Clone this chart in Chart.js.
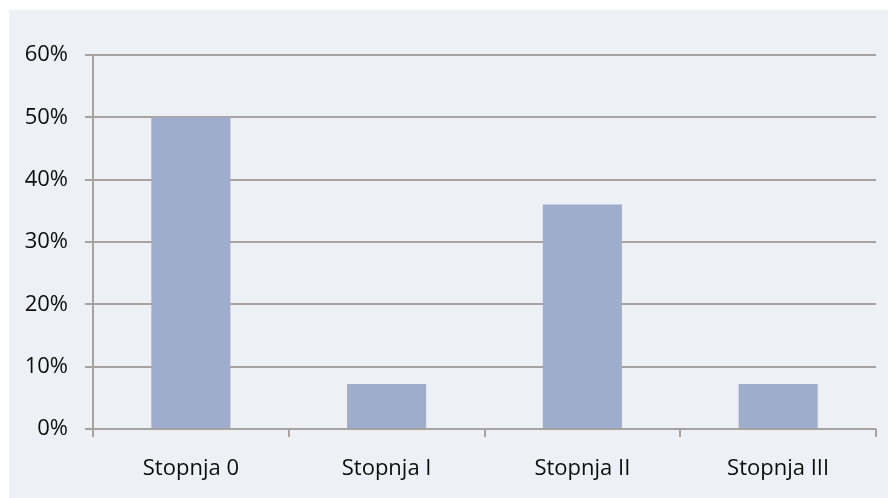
<!DOCTYPE html>
<html>
<head>
<meta charset="utf-8">
<script src="https://cdn.jsdelivr.net/npm/chart.js@4/dist/chart.umd.min.js"></script>
<style>
  html, body { margin: 0; padding: 0; background: #ffffff; }
  #wrap { width: 888px; height: 498px; position: relative; }
</style>
</head>
<body>
<div id="wrap"><canvas id="c" width="888" height="498"></canvas></div>
<script>
// Share of cases per stage (percent)
const categories = ['Stopnja 0', 'Stopnja I', 'Stopnja II', 'Stopnja III'];
const shares = [50, 7.2, 36, 7.2];
const yMin = 0;
const yMax = 60;
const yStep = 10;

const gridColor = '#a9a29e';
const textColor = '#0d0d0d';

// Pale panel behind the chart, leaving a thin white edge on top and left
const panelBackground = {
  id: 'panelBackground',
  beforeDraw(chart) {
    const ctx = chart.ctx;
    ctx.save();
    ctx.fillStyle = '#ffffff';
    ctx.fillRect(0, 0, chart.width, chart.height);
    ctx.fillStyle = '#edf0f5';
    ctx.fillRect(9, 10, chart.width - 9, chart.height - 10);
    ctx.restore();
  }
};

new Chart(document.getElementById('c'), {
  type: 'bar',
  data: {
    labels: categories,
    datasets: [{
      data: shares,
      backgroundColor: '#9eadcc',
      borderWidth: 0,
      categoryPercentage: 1,
      barPercentage: 0.404
    }]
  },
  options: {
    responsive: false,
    animation: false,
    devicePixelRatio: 1,
    layout: { padding: { top: 55, right: 12, bottom: 0, left: 0 } },
    plugins: {
      legend: { display: false },
      tooltip: { enabled: false }
    },
    scales: {
      x: {
        grid: {
          drawOnChartArea: false,
          drawTicks: true,
          tickLength: 8,
          color: gridColor,
          lineWidth: 2
        },
        border: { display: false },
        ticks: {
          color: textColor,
          padding: 19,
          font: { family: '"Open Sans", sans-serif', size: 22 }
        },
        afterFit(scale) { scale.height = 69; }
      },
      y: {
        min: yMin,
        max: yMax,
        grid: {
          color: gridColor,
          lineWidth: 2,
          tickLength: 8
        },
        border: { display: true, color: gridColor, width: 2 },
        ticks: {
          stepSize: yStep,
          color: textColor,
          padding: 17,
          font: { family: '"Open Sans", sans-serif', size: 22 },
          callback: (v) => v + '%'
        },
        afterFit(scale) { scale.width = 93; }
      }
    }
  },
  plugins: [panelBackground]
});
</script>
</body>
</html>
